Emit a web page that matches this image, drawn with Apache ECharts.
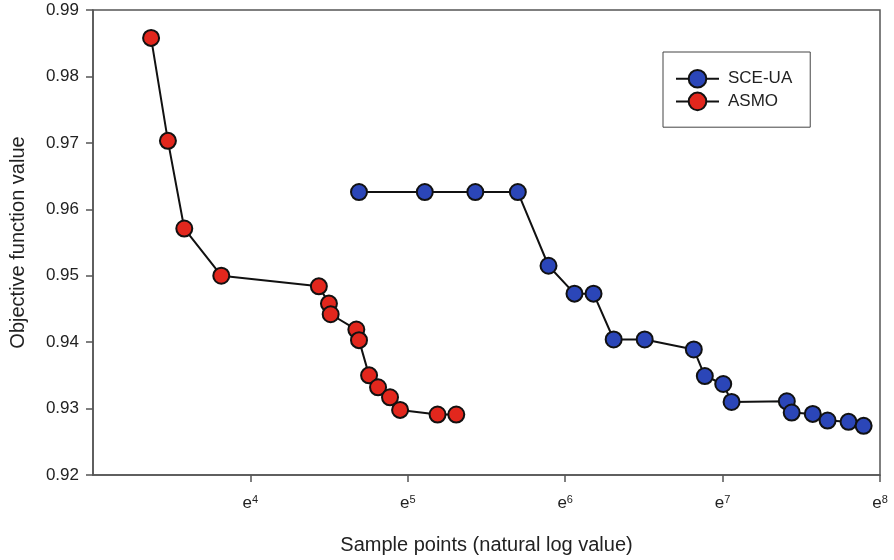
<!DOCTYPE html>
<html>
<head>
<meta charset="utf-8">
<title>SCE-UA vs ASMO</title>
<script src="https://cdn.jsdelivr.net/npm/echarts@6/dist/echarts.min.js"></script>
<style>
  html, body { margin: 0; padding: 0; background: #fff; }
  #chart { width: 894px; height: 560px; }
</style>
</head>
<body>
<div id="chart"></div>
<script>
// sample points, natural log value (x) and objective function value (y)
const sceX = [4.690, 5.108, 5.429, 5.699, 5.894, 6.059, 6.180, 6.308, 6.505, 6.817,
              6.887, 7.004, 7.057, 7.408, 7.439, 7.573, 7.667, 7.800, 7.896];
const sceY = [0.9626, 0.9626, 0.9626, 0.9626, 0.9515, 0.9473, 0.9473, 0.9404, 0.9404, 0.9389,
              0.9349, 0.9337, 0.9310, 0.9311, 0.9294, 0.9292, 0.9282, 0.9280, 0.9274];

const asmoX = [3.369, 3.476, 3.580, 3.815, 4.435, 4.499, 4.510, 4.673, 4.690, 4.754,
               4.811, 4.887, 4.951, 5.189, 5.308];
const asmoY = [0.9858, 0.9703, 0.9571, 0.9500, 0.9484, 0.9458, 0.9442, 0.9419, 0.9403, 0.9350,
               0.9332, 0.9317, 0.9298, 0.9291, 0.9291];

const xTicks = [4, 5, 6, 7, 8];   // shown as e^n

const zip = (xs, ys) => xs.map((x, i) => [x, ys[i]]);

const chart = echarts.init(document.getElementById('chart'));
const font = 'Liberation Sans, Arial, sans-serif';
const axisColor = '#555';
const textColor = '#222';

function makeSeries(name, data, color) {
    return {
        name: name,
        type: 'line',
        data: data,
        symbol: 'circle',
        symbolSize: 16,
        lineStyle: { color: '#111', width: 2 },
        itemStyle: { color: color, borderColor: '#111', borderWidth: 2 },
        emphasis: { disabled: true },
        animation: false,
        z: 3
    };
}

chart.setOption({
    backgroundColor: '#fff',
    grid: {
        left: 93, right: 14, top: 10, bottom: 84,
        show: true,
        borderColor: axisColor,
        borderWidth: 1.5
    },
    legend: {
        orient: 'vertical',
        left: 663,
        top: 52,
        padding: [17, 18, 16, 12],
        itemWidth: 43,
        itemHeight: 22,
        itemGap: 3,
        borderColor: '#444',
        borderWidth: 1,
        textStyle: { fontFamily: font, fontSize: 17, color: textColor, padding: [0, 0, 0, 4] },
        data: ['SCE-UA', 'ASMO']
    },
    xAxis: {
        type: 'value',
        min: 3,
        max: 8,
        interval: 1,
        name: 'Sample points (natural log value)',
        nameLocation: 'middle',
        nameGap: 60,
        nameTextStyle: { fontFamily: font, fontSize: 20, color: textColor },
        axisLine: { lineStyle: { color: axisColor, width: 1.5 } },
        axisTick: { length: 7, lineStyle: { color: axisColor, width: 1.5 } },
        splitLine: { show: false },
        axisLabel: {
            margin: 19,
            showMinLabel: false,
            formatter: (v) => xTicks.includes(v) ? '{e|e}{s|' + v + '}' : '',
            rich: {
                e: { fontFamily: font, fontSize: 17, color: textColor },
                s: { fontFamily: font, fontSize: 11, color: textColor, padding: [0, 0, 8, 0] }
            }
        }
    },
    yAxis: {
        type: 'value',
        min: 0.92,
        max: 0.99,
        interval: 0.01,
        name: 'Objective function value',
        nameLocation: 'middle',
        nameGap: 65,
        nameTextStyle: { fontFamily: font, fontSize: 20, color: textColor },
        axisLine: { show: true, lineStyle: { color: axisColor, width: 1.5 } },
        axisTick: { show: true, length: 7, lineStyle: { color: axisColor, width: 1.5 } },
        splitLine: { show: false },
        axisLabel: {
            margin: 14,
            fontFamily: font,
            fontSize: 17,
            color: textColor,
            formatter: (v) => v.toFixed(2)
        }
    },
    series: [
        makeSeries('SCE-UA', zip(sceX, sceY), '#2b46b8'),
        makeSeries('ASMO', zip(asmoX, asmoY), '#e2271d')
    ]
});
</script>
</body>
</html>
